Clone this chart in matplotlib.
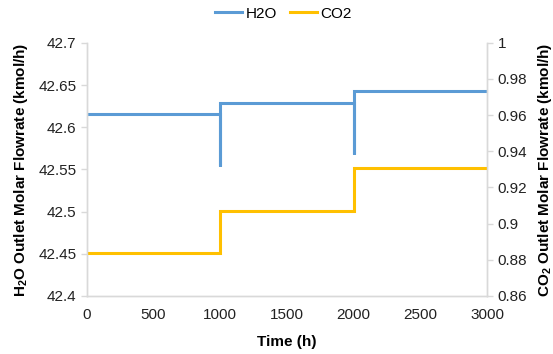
import numpy as np
import matplotlib.pyplot as plt
from matplotlib.lines import Line2D

plt.rcParams['font.family'] = ['Liberation Sans', 'DejaVu Sans']
plt.rcParams['mathtext.default'] = 'regular'

# step data
t_h2o = [0, 1000, 1000, 1000, 2000, 2000, 2000, 3000]
h2o = [42.616, 42.616, 42.554, 42.629, 42.629, 42.568, 42.643, 42.643]
t_co2 = [0, 1000, 1000, 2000, 2000, 3000]
co2 = [0.8836, 0.8836, 0.9072, 0.9072, 0.931, 0.931]

x_ticks = [0, 500, 1000, 1500, 2000, 2500, 3000]
y1_ticks = [42.4, 42.45, 42.5, 42.55, 42.6, 42.65, 42.7]
y2_ticks = [0.86, 0.88, 0.9, 0.92, 0.94, 0.96, 0.98, 1]

blue = '#5B9BD5'
gold = '#FFC000'
grey = '#D9D9D9'

fig = plt.figure(figsize=(5.53, 3.54), dpi=100)
ax = fig.add_axes([0.157, 0.164, 0.724, 0.715])
ax2 = ax.twinx()

ax.plot(t_h2o, h2o, color=blue, lw=2.2, solid_joinstyle='miter')
ax2.plot(t_co2, co2, color=gold, lw=2.2, solid_joinstyle='miter')

ax.set_xlim(0, 3000)
ax.set_ylim(42.4, 42.7)
ax2.set_ylim(0.86, 1)
ax.set_xticks(x_ticks)
ax.set_yticks(y1_ticks)
ax2.set_yticks(y2_ticks)
ax.set_yticklabels([f'{v:g}' for v in y1_ticks])
ax2.set_yticklabels([f'{v:g}' for v in y2_ticks])

for a in (ax, ax2):
    a.spines['top'].set_visible(False)
    for s in ('left', 'right', 'bottom'):
        a.spines[s].set_color(grey)
        a.spines[s].set_linewidth(1)
    a.tick_params(colors=grey, labelcolor='#222222', labelsize=11, length=4, width=1)
ax.tick_params(axis='x', length=0, pad=9)

ax.set_xlabel('Time (h)', fontsize=11, fontweight='bold', labelpad=9)
ax.set_ylabel(r'H$_2$O Outlet Molar Flowrate (kmol/h)', fontsize=11, fontweight='bold', labelpad=6)
ax2.set_ylabel(r'CO$_2$ Outlet Molar Flowrate (kmol/h)', fontsize=11, fontweight='bold', labelpad=6)

handles = [Line2D([], [], color=blue, lw=2.2), Line2D([], [], color=gold, lw=2.2)]
fig.legend(handles, ['H2O', 'CO2'], loc='upper center', bbox_to_anchor=(0.512, 1.02), ncol=2,
           frameon=False, fontsize=11, handlelength=1.8, handletextpad=0.2, columnspacing=0.85)

plt.savefig('out.png', dpi=100)
